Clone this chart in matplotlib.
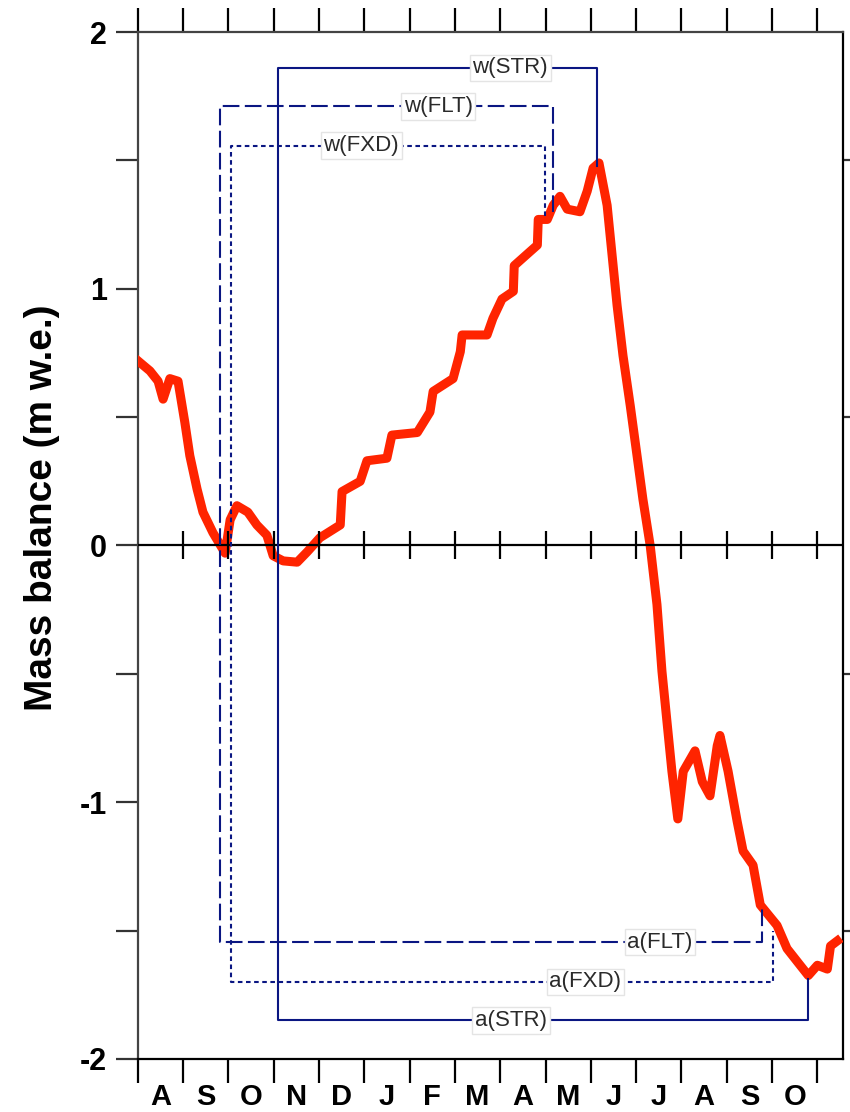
import numpy as np
import matplotlib
matplotlib.use("Agg")
import matplotlib.pyplot as plt
from matplotlib.ticker import MultipleLocator, FixedLocator, NullFormatter

plt.rcParams['axes.unicode_minus'] = False

# month axis: 0 = start of August, one unit per month
months = ['A', 'S', 'O', 'N', 'D', 'J', 'F', 'M', 'A', 'M', 'J', 'J', 'A', 'S', 'O']
month_edges = list(range(16))

# cumulative mass balance (m w.e.)
curve_t = [0.0, 0.27, 0.45, 0.56, 0.71, 0.89, 1.04, 1.15, 1.31, 1.44, 1.66, 1.93,
           2.04, 2.19, 2.43, 2.63, 2.85, 2.99, 3.21, 3.52, 3.74, 4.02, 4.47, 4.51,
           4.91, 5.06, 5.50, 5.61, 6.17, 6.45, 6.52, 6.96, 7.12, 7.16, 7.71, 7.84,
           8.04, 8.29, 8.31, 8.66, 8.82, 8.84, 9.04, 9.17, 9.32, 9.48, 9.76, 9.92,
           10.05, 10.18, 10.36, 10.47, 10.58, 10.71, 10.87, 11.02, 11.15, 11.31,
           11.46, 11.57, 11.68, 11.79, 11.92, 12.04, 12.30, 12.46, 12.63, 12.79,
           12.85, 13.03, 13.23, 13.36, 13.58, 13.74, 14.11, 14.33, 14.62, 14.80,
           15.00, 15.22, 15.29, 15.44]
curve_mb = [0.72, 0.68, 0.64, 0.57, 0.65, 0.64, 0.48, 0.35, 0.22, 0.13, 0.05, -0.03,
            0.10, 0.155, 0.13, 0.08, 0.04, -0.04, -0.06, -0.065, -0.025, 0.03, 0.08, 0.21,
            0.25, 0.33, 0.34, 0.43, 0.44, 0.52, 0.60, 0.65, 0.755, 0.82, 0.82, 0.885,
            0.96, 0.99, 1.09, 1.145, 1.17, 1.27, 1.27, 1.325, 1.36, 1.31, 1.30, 1.38,
            1.47, 1.49, 1.325, 1.13, 0.935, 0.74, 0.545, 0.35, 0.18, 0.0,
            -0.23, -0.49, -0.685, -0.88, -1.065, -0.88, -0.80, -0.92, -0.975, -0.78,
            -0.74, -0.88, -1.075, -1.19, -1.245, -1.40, -1.48, -1.57, -1.635, -1.675,
            -1.635, -1.65, -1.56, -1.54]

# balance-year brackets: winter (w) on top, annual (a) at bottom
# [start, end of winter, end of year], [winter balance top, curve at winter end], [annual bottom, curve at year end]
str_t = [3.10, 10.14, 14.80]
str_w = [1.86, 1.48]
str_a = [-1.85, -1.69]
flt_t = [1.82, 9.17, 13.78]
flt_w = [1.71, 1.30]
flt_a = [-1.545, -1.41]
fxd_t = [2.06, 8.99, 14.03]
fxd_w = [1.558, 1.285]
fxd_a = [-1.70, -1.50]

# label positions (month, value)
lab_names = ['w(STR)', 'w(FLT)', 'w(FXD)', 'a(FLT)', 'a(FXD)', 'a(STR)']
lab_t = [8.22, 6.63, 4.93, 11.53, 9.88, 8.24]
lab_v = [1.86, 1.71, 1.558, -1.545, -1.70, -1.85]

navy = '#0a1682'
red = '#ff2400'

fig = plt.figure(figsize=(8.5, 11.12), dpi=100)
ax = fig.add_axes([0.162, 0.0477, 0.830, 0.9235])

ax.plot(curve_t, curve_mb, color=red, lw=6.5, solid_joinstyle='round', zorder=3)

ax.axhline(0, color='black', lw=1.6, zorder=4)
ax.plot(month_edges[1:], [0] * 15, ls='none', marker='|', ms=20, mew=1.6,
        color='black', zorder=4)

def bracket(t, w, a, ls):
    xs = [t[1], t[1], t[0], t[0], t[2], t[2]]
    ys = [w[1], w[0], w[0], a[0], a[0], a[1]]
    ax.plot(xs, ys, color=navy, lw=1.5, ls=ls, zorder=5)

bracket(str_t, str_w, str_a, '-')
bracket(flt_t, flt_w, flt_a, (0, (8.0, 2.6)))
bracket(fxd_t, fxd_w, fxd_a, (0, (2.2, 1.7)))

for name, t, v in zip(lab_names, lab_t, lab_v):
    ax.text(t, v, name, ha='center', va='center', fontsize=16,
            family='Liberation Sans', color='#2a2a2a', zorder=6,
            bbox=dict(boxstyle='square,pad=0.12', fc='white', ec='#e4e4e4', lw=1))

ax.set_xlim(0, 15.57)
ax.set_ylim(-2, 2)

ax.xaxis.set_major_locator(FixedLocator(month_edges))
ax.xaxis.set_major_formatter(NullFormatter())
ax.xaxis.set_minor_locator(FixedLocator([m + 0.5 for m in range(15)]))
ax.set_xticklabels(months, minor=True)
ax.tick_params(axis='x', which='major', direction='out', length=17, width=1.6,
               top=True, bottom=True, color='black')
ax.tick_params(axis='x', which='minor', length=0, pad=17, labelsize=21)

ax.yaxis.set_major_locator(MultipleLocator(1))
ax.yaxis.set_minor_locator(FixedLocator([-1.5, -0.5, 0.5, 1.5]))
ax.tick_params(axis='y', which='major', direction='out', length=16, width=1.6,
               left=True, right=False, pad=6, labelsize=22, color='#333333')
ax.tick_params(axis='y', which='minor', direction='out', length=16, width=1.6,
               left=True, right=True, color='#333333')

for lab in ax.get_xticklabels(minor=True) + ax.get_yticklabels():
    lab.set_fontfamily('Liberation Sans')
    lab.set_fontweight('bold')

for side in ['left', 'top']:
    ax.spines[side].set_color('#444444')
for side in ['left', 'top', 'right', 'bottom']:
    ax.spines[side].set_linewidth(1.6)

fig.text(0.049, 1 - 508 / 1112, 'Mass balance (m w.e.)', rotation=90,
         ha='center', va='center', fontsize=28, fontweight='bold',
         family='Liberation Sans')

fig.savefig('out.png', dpi=100)
